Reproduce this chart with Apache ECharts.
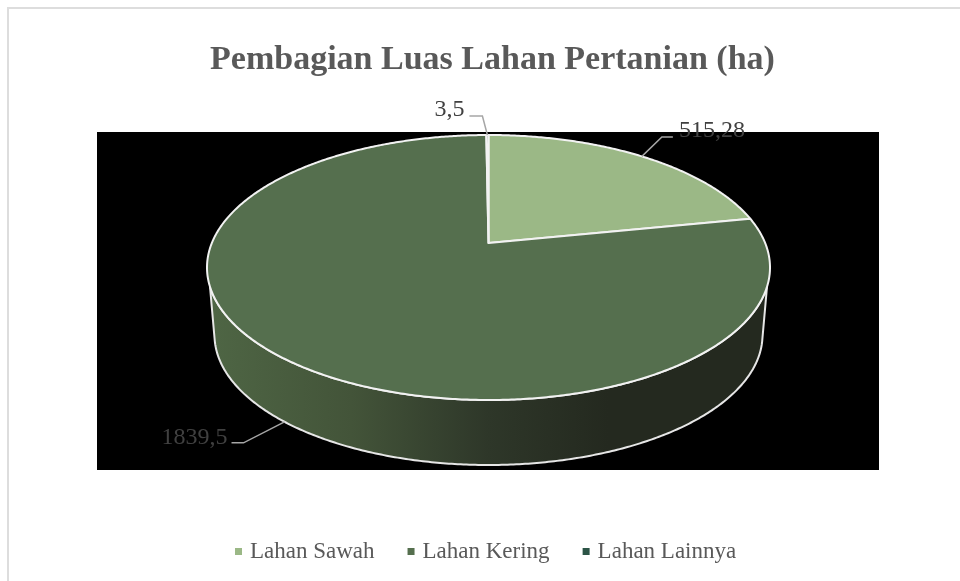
<!DOCTYPE html>
<html><head><meta charset="utf-8">
<style>html,body{margin:0;padding:0;background:#fff}#c{width:960px;height:581px}</style>
<script src="https://cdn.jsdelivr.net/npm/echarts@6/dist/echarts.min.js"></script>
</head><body><div id="c"></div>
<script>
// Data
const categories = ['Lahan Sawah', 'Lahan Kering', 'Lahan Lainnya'];
const values = [515.28, 1839.5, 3.5];
const valueLabels = ['515,28', '1839,5', '3,5'];
const colors = ['#9BB886', '#556F4E', '#2C5446'];

// Presentation (perspective of the pie, not data)
const TOP = {cx: 488.5, cy: 267.5, rx: 281.5, ry: 132.5};
const BOT = {cx: 488.5, cy: 335, rx: 274, ry: 130};
const SHIFT = 0.185;
const WALL = [108.8, 251.2];
const WALL_SCALE = 87.7 / 71.2;
// leader elbow offsets relative to the anchor on the rim
const leaders = [
  {elbow: [20, -19.5], end: [31, -19.5], label: [37, -26], align: 'left'},
  {elbow: [-41, 21], end: [-53, 21], label: [-57, 16], align: 'right'},
  {elbow: [-5, -19], end: [-18, -19], label: [-23, -25], align: 'right'}
];

const total = values.reduce((a, b) => a + b, 0);
const rad = d => d * Math.PI / 180;
function topPoint(t) {
  const u = Math.sin(rad(t)), v = -Math.cos(rad(t));
  const d = 1 - SHIFT * v;
  return [TOP.cx + TOP.rx * u * Math.sqrt(1 - SHIFT * SHIFT) / d,
          TOP.cy + TOP.ry * (v - SHIFT) / d];
}
function botPoint(t) {
  const p = 180 + (t - 180) * WALL_SCALE;
  return [BOT.cx + BOT.rx * Math.sin(rad(p)), BOT.cy - BOT.ry * Math.cos(rad(p))];
}
function arc(fn, a, b) {
  const n = Math.max(2, Math.ceil(Math.abs(b - a) / 0.5)), out = [];
  for (let i = 0; i <= n; i++) out.push(fn(a + (b - a) * i / n));
  return out;
}
let cum = 0;
const series = categories.map((name, i) => {
  const start = cum / total * 360;
  cum += values[i];
  const end = cum / total * 360;
  return {
    type: 'custom', name, coordinateSystem: 'none', silent: true,
    itemStyle: {color: colors[i]},
    data: [[start, end, i]],
    renderItem(params, api) {
      const a = api.value(0), b = api.value(1), idx = api.value(2);
      const kids = [];
      const wa = Math.max(a, WALL[0]), wb = Math.min(b, WALL[1]);
      if (wb > wa) {
        const pts = arc(topPoint, wa, wb).concat(arc(botPoint, wa, wb).reverse());
        kids.push({type: 'polygon', shape: {points: pts},
          style: {fill: new echarts.graphic.LinearGradient(215, 0, 761, 0, [
            {offset: 0, color: '#4E6544'},
            {offset: 0.25, color: '#435439'},
            {offset: 0.5, color: '#2E3729'},
            {offset: 0.72, color: '#24291F'},
            {offset: 1, color: '#24291F'}], true),
            stroke: '#E6E6E6', lineWidth: 2, lineJoin: 'round'}});
      }
      const apex = [TOP.cx, TOP.cy - TOP.ry * SHIFT];
      kids.push({type: 'polygon',
        shape: {points: [apex].concat(arc(topPoint, a, b))},
        style: {fill: colors[idx], stroke: '#F2F2F2', lineWidth: 2, lineJoin: 'round'}});
      const mid = (a + b) / 2;
      const anchor = (mid > WALL[0] && mid < WALL[1]) ? botPoint(mid) : topPoint(mid);
      const L = leaders[idx];
      kids.push({type: 'polyline', z2: 5, shape: {points: [
        anchor, [anchor[0] + L.elbow[0], anchor[1] + L.elbow[1]], [anchor[0] + L.end[0], anchor[1] + L.end[1]]]},
        style: {fill: null, stroke: '#A6A6A6', lineWidth: 1.5}});
      kids.push({type: 'text', z2: 6, style: {
        text: valueLabels[idx], x: anchor[0] + L.label[0], y: anchor[1] + L.label[1],
        textAlign: L.align, textVerticalAlign: 'middle',
        font: '24px "Liberation Serif"', fill: '#404040'}});
      return {type: 'group', children: kids};
    }
  };
});

const chart = echarts.init(document.getElementById('c'), null, {renderer: 'canvas'});
chart.setOption({
  animation: false,
  backgroundColor: '#fff',
  title: {text: 'Pembagian Luas Lahan Pertanian (ha)', left: 487.5, top: 38, textAlign: 'center',
    textStyle: {fontFamily: 'Liberation Serif', fontWeight: 'bold', fontSize: 34, color: '#595959'}},
  legend: {data: categories, icon: 'rect', itemWidth: 7, itemHeight: 7, itemGap: 33, left: 230, top: 535,
    selectedMode: false,
    textStyle: {fontFamily: 'Liberation Serif', fontSize: 23, color: '#595959', padding: [0, 0, 0, 3]}},
  grid: {show: true, left: 97, top: 132, width: 782, height: 338, backgroundColor: '#000', borderWidth: 0},
  xAxis: {show: false, type: 'value'},
  yAxis: {show: false, type: 'value'},
  graphic: [{type: 'polyline', silent: true, shape: {points: [[8, 581], [8, 8], [960, 8]]},
    style: {fill: null, stroke: '#DDDDDD', lineWidth: 2}}],
  series
});
</script></body></html>
